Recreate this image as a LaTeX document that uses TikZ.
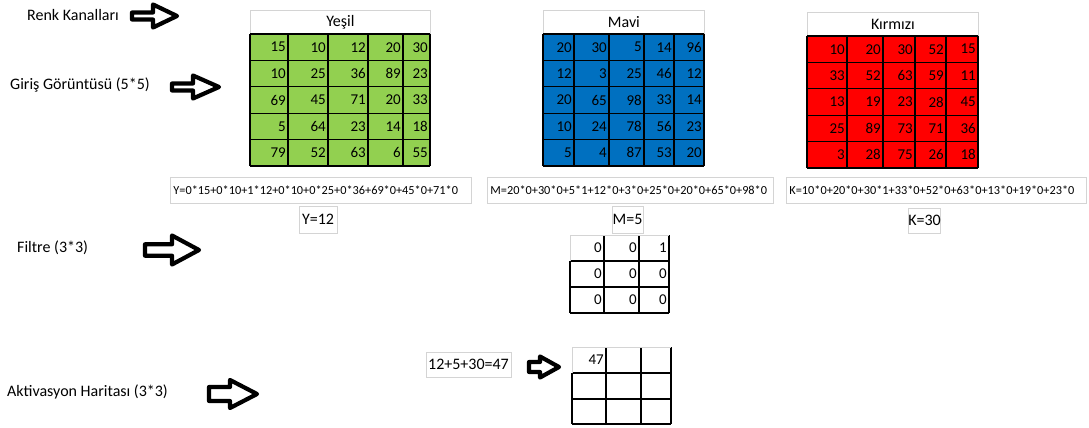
\documentclass[tikz,border=0pt]{standalone}
\usepackage{fontspec}
\setmainfont{Carlito}
\definecolor{yesilrenk}{HTML}{92D050}
\definecolor{mavirenk}{HTML}{0070C0}
\definecolor{kirmizirenk}{HTML}{FF0000}
\definecolor{cerceve}{HTML}{D4D4D4}
\tikzset{
  etiket/.style={anchor=west, inner sep=0pt, font=\fontsize{16}{19}\selectfont},
  baslik/.style={draw=cerceve, line width=0.8pt, anchor=north west, inner sep=0pt, font=\fontsize{16}{19}\selectfont},
  sayi/.style={anchor=east, inner sep=0pt, font=\fontsize{15}{18}\selectfont},
  izgara/.style={line width=1.2pt, black},
  kutu/.style={draw=cerceve, line width=0.8pt, inner sep=0pt, font=\fontsize{16}{19}\selectfont},
  formul/.style={kutu, anchor=north west, minimum height=26, inner xsep=3pt, align=left, font=\fontsize{12.3}{15}\selectfont},
  okcizgi/.style={line width=4.2pt, fill=white, line join=round},
}
% blok ok: kuyruk x, bas tabani x, uc x, orta y, govde yari, bas yari
\newcommand{\blokok}[6]{%
  \draw[okcizgi] (#1+2,#4-#5+2) -- (#2,#4-#5+2) -- (#2,#4-#6+2) -- (#3-3,#4)
    -- (#2,#4+#6-2) -- (#2,#4+#5-2) -- (#1+2,#4+#5-2) -- cycle;
}
% renk kanali: ad, baslik, renk, sol x, sag x, sutun sag kenarlari, ust y, degerler
\newcommand{\kanal}[8]{%
  \node[baslik, minimum width=#5-#4, minimum height=24] (#1) at (#4,#7-24) {#2};
  \fill[#3] (#4,#7) rectangle (#5,#7+132);
  \foreach \x in {#4,#6} \draw[izgara] (\x,#7) -- (\x,#7+132);
  \foreach \k in {0,...,5} \draw[izgara] (#4,#7+\k*26.4) -- (#5,#7+\k*26.4);
  \foreach \v [count=\i from 0] in {#8} {
    \pgfmathtruncatemacro\satir{int(\i/5)}
    \pgfmathtruncatemacro\sutun{mod(\i,5)}
    \pgfmathsetmacro\xsag{{#6}[\sutun]}
    \node[sayi] (#1-\i) at (\xsag-2,#7+13.2+\satir*26.4) {\v};
  }
}
\begin{document}
\begin{tikzpicture}[x=1pt,y=-1pt]
\fill[white] (0,0) rectangle (1089,428);

% sol etiketler
\node[etiket] (renk) at (27,15) {Renk Kanalları};
\node[etiket] (giris) at (10,85) {Giriş Görüntüsü (5*5)};
\node[etiket] (filtre) at (17,248) {Filtre (3*3)};
\node[etiket] (aktivasyon) at (7,392) {Aktivasyon Haritası (3*3)};

\blokok{130}{153}{180}{16}{5.5}{13.5}
\blokok{170}{193}{222}{87}{5.5}{13.5}
\blokok{143}{172}{202}{250}{7.7}{16.5}
\blokok{207}{230}{260}{394}{9}{16}
\blokok{527}{540}{562}{367}{7}{12.5}

% renk kanallari
\kanal{yesil}{Yeşil}{yesilrenk}{250}{430}{288,328,368,403,430}{34}{15,10,12,20,30,10,25,36,89,23,69,45,71,20,33,5,64,23,14,18,79,52,63,6,55}
\kanal{mavi}{Mavi}{mavirenk}{543}{704}{574,609,644,674,704}{34}{20,30,5,14,96,12,3,25,46,12,20,65,98,33,14,10,24,78,56,23,5,4,87,53,20}
\kanal{kirmizi}{Kırmızı}{kirmizirenk}{807}{978}{847,883,915,946,978}{36}{10,20,30,52,15,33,52,63,59,11,13,19,23,28,45,25,89,73,71,36,3,28,75,26,18}

% carpim toplamlari
\node[formul, minimum width=301, text width=295] (yformul) at (170,177) {Y=0*15+0*10+1*12+0*10+0*25+0*36+69*0+45*0+71*0};
\node[formul, minimum width=286, text width=280] (mformul) at (487,177) {M=20*0+30*0+5*1+12*0+3*0+25*0+20*0+65*0+98*0};
\node[formul, minimum width=300, text width=294] (kformul) at (786,177) {K=10*0+20*0+30*1+33*0+52*0+63*0+13*0+19*0+23*0};
\node[kutu, minimum width=38, minimum height=27] (ysonuc) at (318,219.5) {Y=12};
\node[kutu, minimum width=31, minimum height=27] (msonuc) at (627.5,219.5) {M=5};
\node[kutu, minimum width=31, minimum height=25] (ksonuc) at (924.5,220.5) {K=30};

% filtre
\foreach \x in {604,639,669} \draw[izgara] (\x,235) -- (\x,313);
\foreach \y in {261,287,313} \draw[izgara] (570,\y) -- (669,\y);
\draw[izgara] (570,261) -- (570,313);
\draw[kutu] (570,261) -- (570,235) -- (669,235);
\foreach \v [count=\i from 0] in {0,0,1,0,0,0,0,0,0} {
  \pgfmathtruncatemacro\satir{int(\i/3)}
  \pgfmathtruncatemacro\sutun{mod(\i,3)}
  \pgfmathsetmacro\xsag{{604,639,669}[\sutun]}
  \node[sayi] (filtre-\i) at (\xsag-2,248+\satir*26) {\v};
}

% aktivasyon haritasi
\node[kutu, minimum width=85, minimum height=25] (toplam) at (468.5,364.5) {12+5+30=47};
\foreach \x in {606,641,671} \draw[izgara] (\x,347) -- (\x,424);
\foreach \y in {373,399,424} \draw[izgara] (572,\y) -- (671,\y);
\draw[izgara] (572,373) -- (572,424);
\draw[kutu] (572,373) -- (572,347) -- (671,347);
\node[sayi] (harita-0) at (604,360) {47};
\end{tikzpicture}
\end{document}
